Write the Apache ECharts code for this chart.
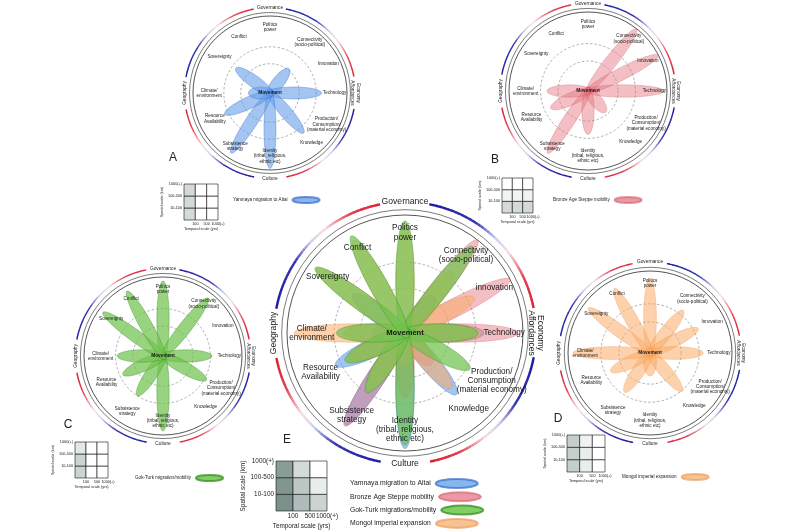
<!DOCTYPE html>
<html><head><meta charset="utf-8">
<script src="https://cdn.jsdelivr.net/npm/echarts@6/dist/echarts.min.js"></script>
<style>html,body{margin:0;padding:0;background:#fff}#c{width:800px;height:530px}</style>
</head><body><div id="c"></div>
<script>
// ------------------- DATA -------------------
const categories = ['Politics power','Connectivity (socio-political)','Innovation','Technology','Production/Consumption (material economy)','Knowledge','Identity (tribal, religious, ethnic etc)','Subsistence strategy','Resource Availability','Climate/environment','Sovereignty','Conflict'];
const spokeLabelsSmall = ['Politics\npower','Connectivity\n(socio-political)','Innovation','Technology','Production/\nConsumption/\n(material economy)','Knowledge','Identity\n(tribal, religious,\nethnic etc)','Subsistence\nstrategy','Resource\nAvailability','Climate/\nenvironment','Sovereignty','Conflict'];
const spokeLabelsMain = ['Politics\npower','Connectivity\n(socio-political)','innovation','Technology','Production/\nConsumption\n(material economy)','Knowledge','Identity\n(tribal, religious,\nethnic etc)','Subsistence\nstrategy','Resource\nAvailability','Climate/\nenvironment','Sovereignty','Conflict'];
const domains = ['Governance','Geography','Culture','Economy\nAffordances'];
const centerLabel = 'Movement';
const seriesNames = ['Yamnaya migration to Altai','Bronze Age Steppe mobility','Gok-Turk migrations/mobility','Mongol imperial expansion'];
const smallLegendNames = ['Yamnaya migration to Altai','Bronze Age Steppe mobility','Gok-Turk migration/mobility','Mongol imperial expansion'];
// petal lengths (fraction of circle radius), in category order
const yamnaya   = [0,    0.40, 0,    0.67, 0,    0.68, 0.98, 0.93, 0.65, 0.28, 0.55, 0];
const bronzeAge = [0,    1.00, 1.00, 0.96, 0,    0.35, 0.55, 0.94, 0.52, 0.52, 0,    0];
const gokTurk   = [0.95, 0.93, 0,    0.62, 0.63, 0,    0.95, 0.60, 0.56, 0.58, 0.94, 0.94];
const mongol    = [0.90, 0.66, 0.66, 0.65, 0,    0.61, 0.28, 0.57, 0.53, 0.94, 0.93, 0.90];
const datasets = [yamnaya, bronzeAge, gokTurk, mongol];
// scale matrices: temporal / spatial tick labels, cell shading (rows bottom -> top)
const temporalTicks = ['100','500','1000(+)'];
const spatialTicks = ['10-100','100-500','1000(+)'];
const scaleA = [[0.30,0,0],[0.30,0,0],[0.30,0,0]];
const scaleB = [[0.30,0.30,0.30],[0.10,0.10,0.10],[0,0,0]];
const scaleC = [[0.35,0,0],[0.35,0,0],[0.20,0,0]];
const scaleD = [[0.40,0.15,0],[0.40,0.15,0],[0.40,0.10,0]];
const scaleE = [[0.90,0.55,0.35],[0.85,0.45,0.15],[0.80,0.30,0]];

// ------------------- LAYOUT / STYLE -------------------
const FONT = "'Liberation Sans Narrow','Liberation Sans',Arial,sans-serif";
const spokeAngles = [90, 52, 27, 0, 331, 310, 270, 237, 205, 180, 144, 119];
const labelRadius = [0.85, 0.84, 0.85, 0.84, 0.84, 0.84, 0.82, 0.83, 0.79, 0.79, 0.81, 0.83];
const domainAngles = [90, 180, 270, 0];
const panels = [
  {key:'A', cx:270, cy:93,  r:77,  fs:4.6, dfs:4.8, mfs:4.8, arcW:1.4, sets:[0], main:false},
  {key:'B', cx:588, cy:91,  r:79,  fs:4.6, dfs:4.8, mfs:4.8, arcW:1.4, sets:[1], main:false},
  {key:'C', cx:163, cy:356, r:79,  fs:4.6, dfs:4.8, mfs:4.8, arcW:1.4, sets:[2], main:false},
  {key:'D', cx:650, cy:353, r:82,  fs:4.6, dfs:4.8, mfs:4.8, arcW:1.4, sets:[3], main:false},
  {key:'E', cx:405, cy:333, r:118, fs:8.2, dfs:8.6, mfs:7.6, arcW:2.4, sets:[0,1,3,2], main:true}
];
const seriesStyles = [
  {fill:'rgba(100,158,234,0.6)', stroke:'rgba(55,105,200,0.7)', legend:'#86b6ee'},
  {fill:'rgba(228,112,125,0.45)', stroke:'rgba(205,80,98,0.55)', legend:'#eb9aa3'},
  {fill:'rgba(112,196,78,0.72)', stroke:'rgba(62,145,42,0.8)', legend:'#7fcf62'},
  {fill:'rgba(250,172,102,0.55)', stroke:'rgba(238,145,75,0.6)', legend:'#f8c393'}
];
const scalePanels = [
  {m:scaleA, x:184, y:184, w:34, h:36, fs:3.8, ngx:7,  ngy:17},
  {m:scaleB, x:502, y:178, w:31, h:35, fs:3.8, ngx:7,  ngy:17},
  {m:scaleC, x:75,  y:442, w:33, h:36, fs:3.8, ngx:7,  ngy:17},
  {m:scaleD, x:567, y:435, w:38, h:37, fs:3.8, ngx:7,  ngy:17},
  {m:scaleE, x:276, y:461, w:51, h:51, fs:6.4, ngx:12, ngy:29}
];
const arcStops = [[0,[222,30,45]],[0.2,[228,62,82]],[0.4,[245,226,232]],[0.52,[205,205,238]],[0.68,[55,55,178]],[1,[28,28,160]]];

function arcColor(t){
  for(let i=1;i<arcStops.length;i++){
    if(t<=arcStops[i][0]){
      const a=arcStops[i-1], b=arcStops[i], f=(t-a[0])/(b[0]-a[0]);
      const c=a[1].map((v,k)=>Math.round(v+(b[1][k]-v)*f));
      return 'rgb('+c.join(',')+')';
    }
  }
  return 'rgb(28,28,160)';
}

function decorRender(p){
  return function(params, api){
    const c = api.coord([0,0]);
    const e = api.coord([1,0]);
    const R = Math.hypot(e[0]-c[0], e[1]-c[1]);
    const ch = [];
    [[1.0,'#2a2a2a',0.8],[1.045,'#444',0.7]].forEach(function(d){
      ch.push({type:'circle', shape:{cx:c[0],cy:c[1],r:d[0]*R}, style:{fill:null, stroke:d[1], lineWidth:d[2]}});
    });
    [0.38,0.6].forEach(function(f){
      ch.push({type:'circle', shape:{cx:c[0],cy:c[1],r:f*R}, style:{fill:null, stroke:'#7a7a7a', lineWidth:0.6, lineDash:[2.5,2]}});
    });
    const gap = 11, arcR = 1.11, N = 40;
    [0,90,180,270].forEach(function(a0){
      const s = a0+gap, en = a0+90-gap;
      for(let i=0;i<N;i++){
        const t0 = s+(en-s)*i/N, t1 = s+(en-s)*(i+1)/N + 0.3;
        const pts = [];
        for(let k=0;k<=3;k++){ pts.push(api.coord([arcR, t0+(t1-t0)*k/3])); }
        ch.push({type:'polyline', shape:{points:pts}, style:{fill:null, stroke:arcColor((i+0.5)/N), lineWidth:p.arcW}});
      }
    });
    return {type:'group', children:ch};
  };
}

function petalRender(st){
  return function(params, api){
    const L = api.value(0), ang = api.value(1);
    const c = api.coord([0, ang]);
    const e = api.coord([1, ang]);
    const R = Math.hypot(e[0]-c[0], e[1]-c[1]);
    const ux = (e[0]-c[0])/R, uy = (e[1]-c[1])/R, vx = -uy, vy = ux;
    const back = 0.05, halfW = 0.078;
    const a = (L+back)/2*R, b = halfW*R, mid = (L-back)/2*R;
    const mx = c[0]+ux*mid, my = c[1]+uy*mid;
    const pts = [];
    for(let k=0;k<60;k++){
      const t = k/60*2*Math.PI, ca = Math.cos(t)*a, sb = Math.sin(t)*b;
      pts.push([mx+ux*ca+vx*sb, my+uy*ca+vy*sb]);
    }
    return {type:'polygon', shape:{points:pts}, style:{fill:st.fill, stroke:st.stroke, lineWidth:0.5}};
  };
}

function labelRender(p){
  return function(params, api){
    const r = api.value(0), ang = api.value(1), kind = api.value(2), idx = api.value(3);
    const pt = api.coord([r, ang]);
    let text, fs, weight = 'normal', rot = 0;
    if(kind===0){ text = (p.main?spokeLabelsMain:spokeLabelsSmall)[idx]; fs = p.fs; }
    else if(kind===1){ text = domains[idx]; fs = p.dfs; rot = idx===1 ? Math.PI/2 : (idx===3 ? -Math.PI/2 : 0); }
    else { text = centerLabel; fs = p.mfs; weight = 'bold'; }
    return {type:'text', x:pt[0], y:pt[1], rotation:rot,
      style:{text:text, fontSize:fs, fontFamily:FONT, fontWeight:weight, fill:'#1a1a1a', align:'center', verticalAlign:'middle', lineHeight:fs*1.12}};
  };
}

function shadeColor(s){
  const a=[255,255,255], b=[108,132,126];
  return 'rgb('+a.map((v,k)=>Math.round(v+(b[k]-v)*s)).join(',')+')';
}
function cellRender(params, api){
  const cx = api.value(0), cy = api.value(1), s = api.value(2);
  const p0 = api.coord([cx, cy+1]), p1 = api.coord([cx+1, cy]);
  return {type:'rect', shape:{x:p0[0], y:p0[1], width:p1[0]-p0[0], height:p1[1]-p0[1]},
    style:{fill:shadeColor(s), stroke:'#111', lineWidth:0.6}};
}

// ------------------- OPTION -------------------
const polar=[], angleAxis=[], radiusAxis=[], series=[];
panels.forEach(function(p, pi){
  polar.push({center:[p.cx, p.cy], radius:p.r});
  angleAxis.push({polarIndex:pi, type:'value', min:0, max:360, startAngle:0, clockwise:false, show:false});
  radiusAxis.push({polarIndex:pi, type:'value', min:0, max:1, show:false});
  series.push({type:'custom', coordinateSystem:'polar', polarIndex:pi, silent:true, z:1, data:[[0,0]], renderItem:decorRender(p)});
  p.sets.forEach(function(si){
    series.push({type:'custom', name:p.main?seriesNames[si]:smallLegendNames[si], coordinateSystem:'polar', polarIndex:pi, z:2,
      itemStyle:{color:seriesStyles[si].legend, borderColor:seriesStyles[si].stroke, borderWidth:0.4},
      encode:{radius:0, angle:1},
      data:datasets[si].map(function(v,k){return [v, spokeAngles[k]];}).filter(function(d){return d[0]>0;}),
      renderItem:petalRender(seriesStyles[si])});
  });
  const ld = categories.map(function(c,k){return [labelRadius[k], spokeAngles[k], 0, k];});
  domains.forEach(function(d,k){ ld.push([1.11, domainAngles[k], 1, k]); });
  ld.push([0, 0, 2, 0]);
  series.push({type:'custom', coordinateSystem:'polar', polarIndex:pi, silent:true, z:3, encode:{radius:0, angle:1}, data:ld, renderItem:labelRender(p)});
});

const grid=[], xAxis=[], yAxis=[];
scalePanels.forEach(function(g, gi){
  grid.push({left:g.x, top:g.y, width:g.w, height:g.h, show:false});
  const ts = {fontSize:g.fs, color:'#222', fontFamily:FONT};
  xAxis.push({gridIndex:gi, type:'value', min:0, max:3, interval:1,
    axisLine:{show:false}, axisTick:{show:false}, splitLine:{show:false},
    axisLabel:Object.assign({margin:2, formatter:function(v){return v===0?'':temporalTicks[v-1];}}, ts),
    name:'Temporal scale (yrs)', nameLocation:'middle', nameGap:g.ngx, nameTextStyle:ts});
  yAxis.push({gridIndex:gi, type:'value', min:0, max:3, interval:1,
    axisLine:{show:false}, axisTick:{show:false}, splitLine:{show:false},
    axisLabel:Object.assign({margin:2, formatter:function(v){return v===0?'':spatialTicks[v-1];}}, ts),
    name:'Spatial scale (km)', nameLocation:'middle', nameGap:g.ngy, nameRotate:90, nameTextStyle:ts});
  const cells=[];
  g.m.forEach(function(row, ri){ row.forEach(function(s, ci){ cells.push([ci, ri, s]); }); });
  series.push({type:'custom', coordinateSystem:'cartesian2d', xAxisIndex:gi, yAxisIndex:gi, silent:true, data:cells, renderItem:cellRender});
});

const ELLIPSE = 'path://M0,10 A20,10 0 1 1 40,10 A20,10 0 1 1 0,10 Z';
function oneLegend(name, left, top, w, h, fs, tw){
  const ts = {fontSize:fs, color:'#222', fontFamily:FONT};
  if(tw) ts.width = tw;
  return {data:[name], left:left, top:top, itemWidth:w, itemHeight:h, symbolKeepAspect:false, align:'right', icon:ELLIPSE, selectedMode:false, padding:0, textStyle:ts};
}
const legend = [
  oneLegend(smallLegendNames[0], 233, 196, 27, 6, 4.6),
  oneLegend(smallLegendNames[1], 553, 196, 27, 6, 4.6),
  oneLegend(smallLegendNames[2], 135, 474, 27, 6, 4.6),
  oneLegend(smallLegendNames[3], 622, 473, 27, 6, 4.6)
];
seriesNames.forEach(function(n, i){ legend.push(oneLegend(n, 350, 478 + i*13.3, 42, 9, 6.8, 80)); });

const letters = [['A',173,158],['B',495,160],['C',68,425],['D',558,419],['E',287,440]];
const graphic = letters.map(function(l){
  return {type:'text', x:l[1], y:l[2], style:{text:l[0], fontSize:12, fill:'#222', fontFamily:"'Liberation Sans',Arial,sans-serif", align:'center', verticalAlign:'middle'}};
});

const chart = echarts.init(document.getElementById('c'));
chart.setOption({
  backgroundColor:'#ffffff',
  animation:false,
  polar:polar, angleAxis:angleAxis, radiusAxis:radiusAxis,
  grid:grid, xAxis:xAxis, yAxis:yAxis,
  legend:legend, graphic:graphic, series:series
});
</script></body></html>
